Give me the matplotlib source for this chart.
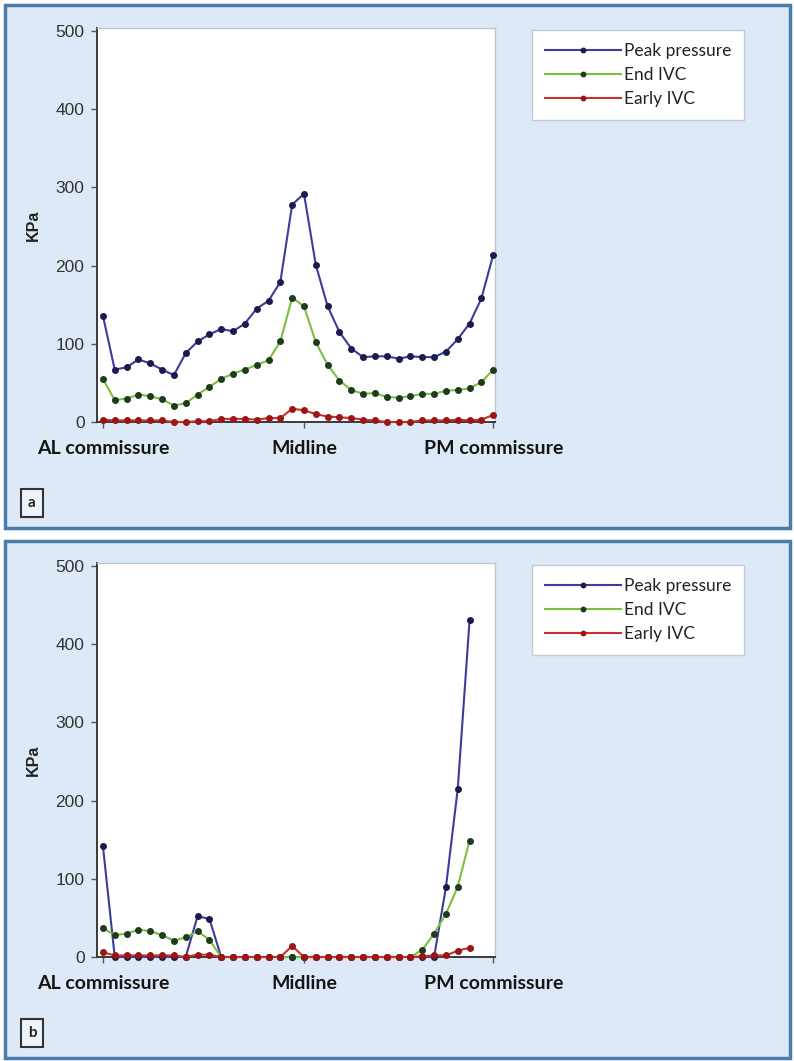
import matplotlib
matplotlib.use("Agg")
import matplotlib.pyplot as plt
from matplotlib.patches import Rectangle
import numpy as np

# ── data ────────────────────────────────────────────────────────────────────
SERIES = ["Peak pressure", "End IVC", "Early IVC"]
XTICK_POS = [0, 17, 33]
XTICK_LABELS = ["AL commissure", "Midline", "PM commissure"]

# panel a: 34 measurement points along the coaptation line
peak_a = [136, 67, 70, 80, 75, 67, 60, 88, 103, 112, 119, 116, 126, 145, 155, 179, 278,
          292, 201, 148, 115, 94, 83, 84, 84, 81, 84, 83, 83, 90, 106, 126, 158, 214]
end_a = [55, 28, 30, 35, 33, 29, 21, 24, 35, 45, 55, 62, 67, 73, 79, 103, 159,
         148, 102, 73, 53, 41, 36, 37, 32, 31, 33, 36, 36, 40, 41, 43, 51, 67]
early_a = [3, 2, 2, 2, 2, 2, 0, 0, 1, 1, 4, 4, 4, 3, 5, 5, 17,
           15, 10, 7, 6, 5, 3, 2, 0, 0, 0, 2, 2, 2, 3, 2, 3, 9]

# panel b: 32 points
peak_b = [142, 0, 0, 0, 0, 0, 0, 0, 52, 49, 0, 0, 0, 0, 0, 0,
          0, 0, 0, 0, 0, 0, 0, 0, 0, 0, 0, 0, 0, 89, 215, 431]
end_b = [37, 28, 30, 35, 33, 28, 21, 25, 33, 22, 0, 0, 0, 0, 0, 0,
         0, 0, 0, 0, 0, 0, 0, 0, 0, 0, 0, 9, 30, 55, 90, 149]
early_b = [6, 2, 2, 2, 2, 2, 2, 0, 3, 3, 0, 0, 0, 0, 0, 0,
           14, 0, 0, 0, 0, 0, 0, 0, 0, 0, 0, 1, 2, 2, 8, 12]

# ── style ───────────────────────────────────────────────────────────────────
W, H = 794, 1061
LINE_COLORS = ["#3c3c9e", "#7cbf3c", "#c8302c"]
MARKER_COLORS = ["#1b1b4d", "#1e3b1e", "#9a1515"]
PANEL_FACE = "#dde9f6"
PANEL_EDGE = "#4a7bab"
LABEL_FONT = "Lato"
TICK_FONT = "Liberation Sans"


def fx(x):
    return x / W


def fy(y):
    return 1 - y / H


fig = plt.figure(figsize=(W / 100, H / 100), dpi=100, facecolor="white")

# panel backgrounds with blue frame (drawn behind the axes)
for top, bottom in [(5, 528), (541, 1058)]:
    fig.patches.append(Rectangle((fx(5), fy(bottom)), fx(790) - fx(5), fy(top) - fy(bottom),
                                 transform=fig.transFigure, facecolor=PANEL_FACE,
                                 edgecolor=PANEL_EDGE, linewidth=2.5, zorder=-5))


def panel(ax_top, ax_bottom, series, letter, letter_y, legend_top):
    ax = fig.add_axes([fx(97), fy(ax_bottom), fx(495) - fx(97), fy(ax_top) - fy(ax_bottom)])
    ax.set_zorder(2)
    ax.set_facecolor("white")
    for name, vals, lc, mc in zip(SERIES, series, LINE_COLORS, MARKER_COLORS):
        x = np.arange(len(vals))
        ax.plot(x, vals, color=lc, linewidth=1.5, marker="o", markersize=4,
                markerfacecolor=mc, markeredgecolor=mc, label=name, clip_on=False, zorder=3)

    ax.set_xlim(-0.5, 33.15)
    ax.set_ylim(0, 504)
    ax.set_yticks([0, 100, 200, 300, 400, 500])
    ax.set_xticks(XTICK_POS)
    ax.set_xticklabels(XTICK_LABELS, fontfamily=LABEL_FONT, fontweight="bold",
                       fontsize=14, color="#151515")
    for lab in ax.get_yticklabels():
        lab.set_fontfamily(TICK_FONT)
        lab.set_fontsize(12.5)
        lab.set_color("#333333")
    ax.tick_params(axis="y", length=4, width=1, color="#555555", pad=5)
    ax.tick_params(axis="x", length=4, width=1, color="#555555", pad=9)

    for s in ["left", "bottom"]:
        ax.spines[s].set_color("#3a3a3a")
        ax.spines[s].set_linewidth(1.4)
    for s in ["top", "right"]:
        ax.spines[s].set_color("#b9c6d3")
        ax.spines[s].set_linewidth(1.0)

    ax.set_ylabel("KPa", fontfamily=TICK_FONT, fontweight="bold", fontsize=11.5, color="#222222")
    ax.yaxis.set_label_coords((41 - 97) / 398, 0.5)

    leg = ax.legend(loc="upper left", bbox_to_anchor=(fx(532), fy(legend_top)),
                    bbox_transform=fig.transFigure, borderaxespad=0, frameon=True,
                    fancybox=False, framealpha=1, edgecolor="#c3ccd6",
                    prop={"family": LABEL_FONT, "size": 12.5},
                    handlelength=4.4, handletextpad=0.15, labelspacing=0.45,
                    borderpad=0.75, markerscale=0.8)
    leg.get_frame().set_linewidth(1.0)
    for t in leg.get_texts():
        t.set_color("#222222")

    fig.text(fx(32), fy(letter_y), letter, ha="center", va="center",
             fontfamily=LABEL_FONT, fontweight="bold", fontsize=11, color="#222222",
             bbox=dict(boxstyle="square,pad=0.45", facecolor="#eef4fa",
                       edgecolor="#333333", linewidth=1.5))
    return ax


panel(28, 422, [peak_a, end_a, early_a], "a", 503, 30)
panel(563, 957, [peak_b, end_b, early_b], "b", 1033, 565)

fig.savefig("out.png", dpi=100, facecolor="white")
